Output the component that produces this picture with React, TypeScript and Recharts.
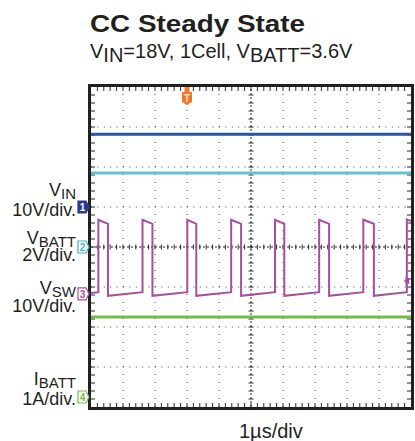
import React from 'react';
import { LineChart, Line, XAxis, YAxis, ReferenceLine, ReferenceDot, ReferenceArea } from 'recharts';

// scope screen: 10 x 8 divisions, 5 minor ticks per division, 1 µs/div
const X_DIVS = 10;
const Y_DIVS = 8;
const MINOR = 5;

// CH1 V_IN (volts)
const vinTime = [0, 10];
const vinVolts = [18.2, 18.2];

// CH2 V_BATT (volts)
const vbattTime = [0, 10];
const vbattVolts = [3.7, 3.7];

// CH3 V_SW (volts) - switch node, read edge by edge
const swTime = [
  0, 0.23, 0.23, 0.53, 0.53, 1.61, 1.61, 1.92, 1.92, 3.01, 3.01, 3.29, 3.29, 4.38, 4.38, 4.69,
  4.69, 5.75, 5.75, 6.04, 6.04, 7.13, 7.13, 7.44, 7.44, 8.51, 8.51, 8.84, 8.84, 9.87, 9.87, 10,
];
const swVolts = [
  0.2, 0.4, 18.5, 17.5, -0.5, 0.4, 18.5, 17.5, -0.5, 0.4, 18.5, 17.5, -0.5, 0.4, 18.5, 17.5,
  -0.5, 0.4, 18.5, 17.5, -0.5, 0.4, 18.5, 17.5, -0.5, 0.4, 18.5, 17.5, -0.5, 0.4, 18.6, 18.2,
];

// CH4 I_BATT (amps)
const ibattTime = [0, 10];
const ibattAmps = [2.0, 2.0];

// trigger (µs, volts on CH3)
const triggerTime = 3;
const triggerLevel = 3.2;

// channel scale (units/div), ground marker (div from bottom), colours
const CH = {
  vin: { perDiv: 10, ground: 5, color: '#2a57a5' },
  vbatt: { perDiv: 2, ground: 4, color: '#62c4d2' },
  sw: { perDiv: 10, ground: 2.83, color: '#a4509f' },
  ibatt: { perDiv: 1, ground: 0.25, color: '#74bd45' },
};

const toRows = (time: number[], vals: number[], ch: { perDiv: number; ground: number }) =>
  time.map((t, i) => ({ t, y: vals[i] / ch.perDiv + ch.ground }));

const vinRows = toRows(vinTime, vinVolts, CH.vin);
const vbattRows = toRows(vbattTime, vbattVolts, CH.vbatt);
const swRows = toRows(swTime, swVolts, CH.sw);
const ibattRows = toRows(ibattTime, ibattAmps, CH.ibatt);

const FONT = '"Liberation Sans", Arial, Helvetica, sans-serif';
const INK = '#231f20';

const gridX = Array.from({ length: X_DIVS - 1 }, (_, i) => i + 1).filter((x) => x !== X_DIVS / 2);
const gridY = Array.from({ length: Y_DIVS - 1 }, (_, i) => i + 1).filter((y) => y !== Y_DIVS / 2);

// line with perpendicular minor tick marks
const tickedLine = (count: number, from: number, to: number, dash?: string) => (p: any) => {
  const { x1, y1, x2, y2 } = p;
  const horizontal = Math.abs(x2 - x1) > Math.abs(y2 - y1);
  const marks = [];
  for (let i = 1; i < count; i++) {
    const x = x1 + ((x2 - x1) * i) / count;
    const y = y1 + ((y2 - y1) * i) / count;
    marks.push(
      horizontal ? (
        <line key={i} x1={x} y1={y + from} x2={x} y2={y + to} />
      ) : (
        <line key={i} x1={x + from} y1={y} x2={x + to} y2={y} />
      )
    );
  }
  return (
    <g stroke="#2b2b2b" strokeWidth={1}>
      {dash && <line x1={x1} y1={y1} x2={x2} y2={y2} strokeDasharray={dash} />}
      {marks}
    </g>
  );
};

const frameShape = (p: any) => (
  <rect
    x={p.x - 1.5}
    y={p.y - 1.5}
    width={p.width + 3}
    height={p.height + 3}
    fill="none"
    stroke={INK}
    strokeWidth={3}
  />
);

const channelMarker = (label: string, color: string, filled: boolean) => (p: any) => {
  const { cx, cy } = p;
  const d = `M${cx - 13},${cy - 6} L${cx - 5},${cy - 6} L${cx - 2},${cy} L${cx - 5},${cy + 6} L${cx - 13},${cy + 6} Z`;
  return (
    <g>
      <path d={d} fill={filled ? color : '#fff'} stroke={color} strokeWidth={1.2} />
      <text
        x={cx - 8.5}
        y={cy + 4}
        textAnchor="middle"
        fontSize={10}
        fontWeight="bold"
        fontFamily={FONT}
        fill={filled ? '#fff' : color}
      >
        {label}
      </text>
    </g>
  );
};

const triggerMarker = (p: any) => {
  const { cx, cy } = p;
  const d = `M${cx - 5},${cy + 5} L${cx + 5},${cy + 5} L${cx + 5},${cy + 15} L${cx},${cy + 18} L${cx - 5},${cy + 15} Z`;
  return (
    <g>
      <rect x={cx - 2.5} y={cy} width={5} height={5} fill="#f3772a" />
      <path d={d} fill="#f3772a" />
      <text x={cx} y={cy + 14.5} textAnchor="middle" fontSize={10} fontWeight="bold" fontFamily={FONT} fill="#fde3cf">
        T
      </text>
    </g>
  );
};

const levelMarker = (p: any) => {
  const { cx, cy } = p;
  return (
    <g fill={CH.sw.color} stroke={CH.sw.color}>
      <path d={`M${cx - 7},${cy} L${cx - 2},${cy - 3} L${cx - 2},${cy + 3} Z`} strokeWidth={0.5} />
      <line x1={cx - 5} y1={cy - 4} x2={cx - 5} y2={cy + 4} strokeWidth={1} />
    </g>
  );
};

function Label({ x, y, main, sub, size = 18 }: { x: number; y: number; main: string; sub?: string; size?: number }) {
  return (
    <text x={x} y={y} textAnchor="end" fontSize={size} fontFamily={FONT} fill={INK}>
      {main}
      {sub && (
        <tspan dy={3} fontSize={size - 3}>
          {sub}
        </tspan>
      )}
    </text>
  );
}

export default function App() {
  return (
    <div style={{ position: 'absolute', left: 0, top: 0, width: 415, height: 441, background: '#fff' }}>
      <LineChart width={415} height={441} margin={{ top: 87, right: 4, bottom: 34, left: 91 }}>
        <XAxis type="number" dataKey="t" domain={[0, X_DIVS]} allowDataOverflow hide />
        <YAxis type="number" dataKey="y" domain={[0, Y_DIVS]} allowDataOverflow hide />

        {gridX.map((x) => (
          <ReferenceLine key={`gx${x}`} x={x} stroke="#444" strokeDasharray="1 7" />
        ))}
        {gridY.map((y) => (
          <ReferenceLine key={`gy${y}`} y={y} stroke="#444" strokeDasharray="1 5.4" />
        ))}
        <ReferenceLine x={X_DIVS / 2} shape={tickedLine(Y_DIVS * MINOR, -2.5, 2.5, '2 2')} />
        <ReferenceLine y={Y_DIVS / 2} shape={tickedLine(X_DIVS * MINOR, -2.5, 2.5, '2 2')} />
        <ReferenceLine y={Y_DIVS} shape={tickedLine(X_DIVS * MINOR, 0, 4)} />
        <ReferenceLine y={0} shape={tickedLine(X_DIVS * MINOR, -4, 0)} />
        <ReferenceLine x={0} shape={tickedLine(Y_DIVS * MINOR, 0, 4)} />
        <ReferenceLine x={X_DIVS} shape={tickedLine(Y_DIVS * MINOR, -4, 0)} />

        <Line data={vinRows} dataKey="y" type="linear" stroke={CH.vin.color} strokeWidth={3} dot={false} isAnimationActive={false} />
        <Line data={vbattRows} dataKey="y" type="linear" stroke={CH.vbatt.color} strokeWidth={3} dot={false} isAnimationActive={false} />
        <Line data={swRows} dataKey="y" type="linear" stroke={CH.sw.color} strokeWidth={2} dot={false} isAnimationActive={false} />
        <Line data={ibattRows} dataKey="y" type="linear" stroke={CH.ibatt.color} strokeWidth={3} dot={false} isAnimationActive={false} />

        <ReferenceArea x1={0} x2={X_DIVS} y1={0} y2={Y_DIVS} shape={frameShape} />

        <ReferenceDot x={0} y={CH.vin.ground} shape={channelMarker('1', '#2b3990', true)} />
        <ReferenceDot x={0} y={CH.vbatt.ground} shape={channelMarker('2', '#3fb3c4', false)} />
        <ReferenceDot x={0} y={CH.sw.ground} shape={channelMarker('3', CH.sw.color, false)} />
        <ReferenceDot x={0} y={CH.ibatt.ground} shape={channelMarker('4', CH.ibatt.color, false)} />
        <ReferenceDot x={triggerTime} y={Y_DIVS} shape={triggerMarker} />
        <ReferenceDot x={X_DIVS} y={triggerLevel / CH.sw.perDiv + CH.sw.ground} shape={levelMarker} />
      </LineChart>

      <svg width={415} height={441} style={{ position: 'absolute', left: 0, top: 0, pointerEvents: 'none' }}>
        <text x={90} y={32} fontSize={23.5} fontWeight="bold" fontFamily={FONT} fill={INK} textLength={215} lengthAdjust="spacingAndGlyphs">
          CC Steady State
        </text>
        <text x={90} y={58} fontSize={20} fontFamily={FONT} fill={INK}>
          V<tspan dy={4.4}>IN</tspan>
          <tspan dy={-4.4}>=18V, 1Cell, V</tspan>
          <tspan dy={4.4}>BATT</tspan>
          <tspan dy={-4.4}>=3.6V</tspan>
        </text>

        <Label x={76} y={196} main="V" sub="IN" />
        <Label x={76} y={216} main="10V/div." />
        <Label x={76} y={244} main="V" sub="BATT" />
        <Label x={76} y={261} main="2V/div." />
        <Label x={76} y={294} main="V" sub="SW" />
        <Label x={76} y={312} main="10V/div." />
        <Label x={76} y={385} main="I" sub="BATT" />
        <Label x={76} y={405} main="1A/div." />

        <text x={239} y={438} fontSize={20} fontFamily={FONT} fill={INK}>
          1µs/div
        </text>
      </svg>
    </div>
  );
}
